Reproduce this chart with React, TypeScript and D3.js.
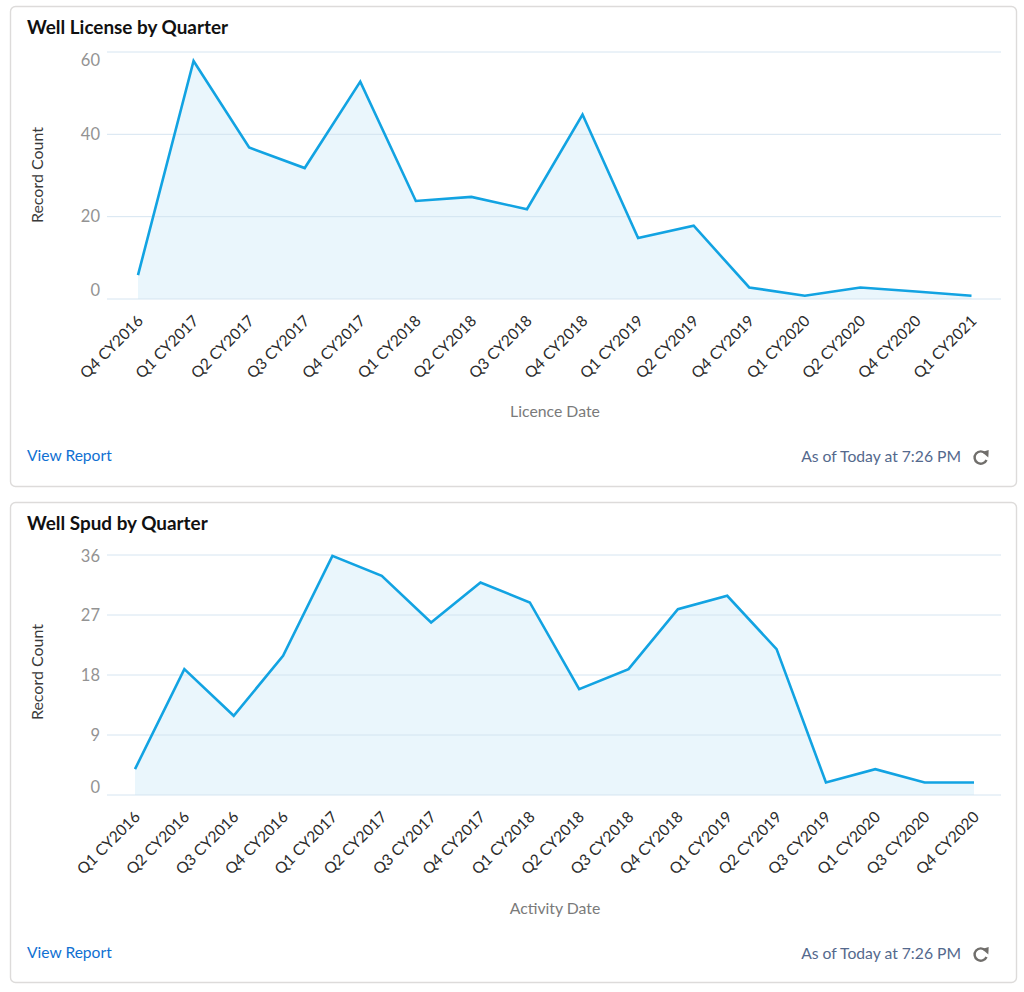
import React from "react";
import * as d3 from "d3";

const licenseQuarters = ["Q4 CY2016","Q1 CY2017","Q2 CY2017","Q3 CY2017","Q4 CY2017","Q1 CY2018","Q2 CY2018","Q3 CY2018","Q4 CY2018","Q1 CY2019","Q2 CY2019","Q4 CY2019","Q1 CY2020","Q2 CY2020","Q4 CY2020","Q1 CY2021"];
const licenseCounts = [6,58,37,32,53,24,25,22,45,15,18,3,1,3,2,1];
const licenseTicks = [0,20,40,60];
const spudQuarters = ["Q1 CY2016","Q2 CY2016","Q3 CY2016","Q4 CY2016","Q1 CY2017","Q2 CY2017","Q3 CY2017","Q4 CY2017","Q1 CY2018","Q2 CY2018","Q3 CY2018","Q4 CY2018","Q1 CY2019","Q2 CY2019","Q3 CY2019","Q1 CY2020","Q3 CY2020","Q4 CY2020"];
const spudCounts = [4,19,12,21,36,33,26,32,29,16,19,28,30,22,2,4,2,2];
const spudTicks = [0,9,18,27,36];

const FONT = "Lato, 'Open Sans', sans-serif";

type PanelProps = {
  title: string; xTitle: string; cats: string[]; vals: number[]; ticks: number[];
  boxY: number; boxH: number; titleY: number; gridTop: number; gridBottom: number;
  x0: number; x1: number; xTitleY: number; footerY: number; labelY: number;
  topShift: number; bottomShift: number; yTitleMid: number;
};

function Panel(p: PanelProps) {
  const yMax = p.ticks[p.ticks.length - 1];
  const y = d3.scaleLinear().domain([0, yMax]).range([p.gridBottom, p.gridTop]);
  const yMark = d3.scaleLinear().domain([0, yMax]).range([p.gridBottom + 0.8, p.gridTop + 0.8]);
  const x = d3.scalePoint<string>().domain(p.cats).range([p.x0, p.x1]);
  const pts = p.cats.map((c, i) => ({ c, v: p.vals[i] }));
  const line = d3.line<{ c: string; v: number }>().x(d => x(d.c)!).y(d => yMark(d.v));
  const area = d3.area<{ c: string; v: number }>().x(d => x(d.c)!).y0(y(0)).y1(d => yMark(d.v));
  return (
    <g>
      <rect x={10.5} y={p.boxY + 0.5} width={1006} height={p.boxH} rx={5} fill="#fff" stroke="#dddbda" strokeWidth={1.4} />
      <text x={27} y={p.titleY} fontSize={18.9} fontWeight={700} fill="#111">{p.title}</text>
      <path d={area(pts)!} fill="#1b96d9" fillOpacity={0.09} />
      {p.ticks.map(t => (
        <line key={t} x1={107} x2={1001} y1={y(t)} y2={y(t)} stroke="#cfe0ee" strokeOpacity={0.85} strokeWidth={1} />
      ))}
      <path d={line(pts)!} fill="none" stroke="#12a3e2" strokeWidth={2.6} strokeLinejoin="miter" />
      {p.ticks.map((t, i) => {
        const shift = i === 0 ? p.bottomShift : i === p.ticks.length - 1 ? p.topShift : 0;
        return (
          <text key={t} x={100} y={y(t) + shift} dy="0.35em" textAnchor="end" fontSize={16.5} fill="#939393">{t}</text>
        );
      })}
      <text transform={`translate(43,${p.yTitleMid}) rotate(-90)`} textAnchor="middle" fontSize={16} fill="#3a3a3a">Record Count</text>
      {p.cats.map(c => (
        <text key={c} transform={`translate(${x(c)! + 6},${p.labelY}) rotate(-45)`} textAnchor="end" fontSize={15.5} fill="#2b2b2b">{c}</text>
      ))}
      <text x={555} y={p.xTitleY} textAnchor="middle" fontSize={15.8} fill="#7a7a7a">{p.xTitle}</text>
      <text x={27} y={p.footerY} fontSize={15.6} fill="#0f70d2">View Report</text>
      <text x={961} y={p.footerY + 1} textAnchor="end" fontSize={15.7} fill="#54698d">As of Today at 7:26 PM</text>
      <g transform={`translate(980.5,${p.footerY - 3.5})`} fill="none" stroke="#706e6b" strokeWidth={2.4}>
        <path d="M5,-4 A6.2,6.2 0 1 0 6,2.5" />
        <path d="M1.5,-5.4 L8.2,-7.4 L7.8,0" fill="#706e6b" stroke="none" />
      </g>
    </g>
  );
}

export default function App() {
  return (
    <svg width={1024} height={992} style={{ position: "absolute", left: 0, top: 0, fontFamily: FONT }}>
      <rect width={1024} height={992} fill="#fff" />
      <Panel title="Well License by Quarter" xTitle="Licence Date" cats={licenseQuarters} vals={licenseCounts} ticks={licenseTicks}
        boxY={6} boxH={480} titleY={33.5} gridTop={52} gridBottom={299} x0={138} x1={971.5} xTitleY={417} footerY={461} labelY={322} topShift={8} bottomShift={-8.5} yTitleMid={175} />
      <Panel title="Well Spud by Quarter" xTitle="Activity Date" cats={spudQuarters} vals={spudCounts} ticks={spudTicks}
        boxY={502} boxH={480} titleY={529.5} gridTop={555} gridBottom={795} x0={135} x1={974} xTitleY={914} footerY={958} labelY={818} topShift={1} bottomShift={-8} yTitleMid={672} />
    </svg>
  );
}
